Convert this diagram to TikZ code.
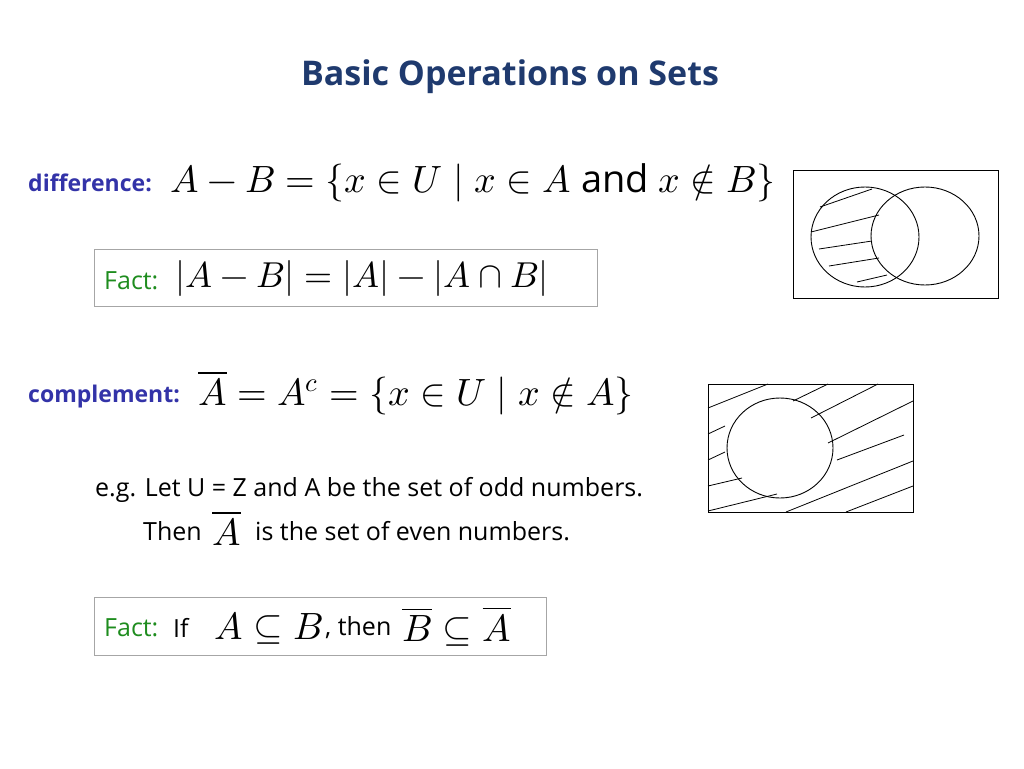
\documentclass[tikz,border=0pt]{standalone}
\usepackage{fontspec}
\setmainfont{Open Sans}
\usepackage{amsmath,amssymb}
\usepackage{unicode-math}
\setmathfont{Latin Modern Math}
\definecolor{titleblue}{HTML}{1F3A6E}
\definecolor{lblue}{HTML}{3333A8}
\definecolor{fgreen}{HTML}{1E8C1E}
\begin{document}
\begin{tikzpicture}[x=1pt,y=-1pt,
  txt/.style={anchor=west,inner sep=0pt,font=\fontsize{25}{29}\selectfont},
  mth/.style={anchor=west,inner sep=0pt,font=\fontsize{38}{42}\selectfont},
  lab/.style={anchor=west,inner sep=0pt,font=\fontsize{23}{27}\selectfont\bfseries,text=lblue},
  factbox/.style={draw=gray!70,line width=0.8pt},
  venn/.style={draw,line width=0.9pt}]
\useasboundingbox (0,0) rectangle (1024,768);
\node[inner sep=0pt,font=\fontsize{34}{38}\selectfont\bfseries,text=titleblue] (title) at (510,77) {Basic Operations on Sets};
% difference
\node[lab] (dl) at (28,183) {difference:};
\node[mth] (df) at (170,183) {$A-B=\{x\in U\mid x\in A\ \text{and}\ x\notin B\}$};
\draw[factbox] (94,249) rectangle (597,306);
\node[txt,text=fgreen] (f1) at (104,281) {Fact:};
\node[mth,font=\fontsize{36}{40}\selectfont] (f1m) at (175,278) {$|A-B|=|A|-|A\cap B|$};
% venn 1
\draw[venn] (793,170) rectangle (998,298);
\draw[venn] (865,237) ellipse [x radius=54,y radius=50];
\draw[venn] (925,236) ellipse [x radius=54,y radius=49];
\foreach \a/\b/\c/\d in {820/207/872/189, 811/232/879/215, 819/249/872/241, 829/266/879/258, 857/282/887/275}
  \draw[line width=0.8pt] (\a,\b) -- (\c,\d);
% complement
\node[lab] (cl) at (28,397) {complement:};
\node[mth] (cf) at (198,393) {$\overline{A}=A^{c}=\{x\in U\mid x\notin A\}$};
\node[txt] (eg) at (95,490) {e.g. Let U = Z and A be the set of odd numbers.};
\node[txt] (th) at (143,531) {Then};
\node[mth] (thA) at (212,528) {$\overline{A}$};
\node[txt] (th2) at (255,531) {is the set of even numbers.};
% venn 2
\draw[venn] (708,384) rectangle (913,512);
\draw[venn] (780,448) ellipse [x radius=53,y radius=50];
\foreach \a/\b/\c/\d in {708/408/768/384, 793/401/828/384, 811/418/878/384, 828/443/913/401, 837/460/904/435, 786/512/913/461, 846/512/913/486, 708/511/777/494, 708/486/742/478, 708/460/725/452, 708/434/725/426}
  \draw[line width=0.8pt] (\a,\b) -- (\c,\d);
% fact 2
\draw[factbox] (94,597) rectangle (546,655);
\node[txt,text=fgreen] (f2) at (104,628) {Fact:};
\node[txt] (f2if) at (173,628) {If};
\node[mth] (f2a) at (214,628) {$A\subseteq B$};
\node[txt] (f2t) at (325,628) {, then};
\node[mth] (f2b) at (402,626) {$\overline{B}\subseteq\overline{A}$};
\end{tikzpicture}
\end{document}
